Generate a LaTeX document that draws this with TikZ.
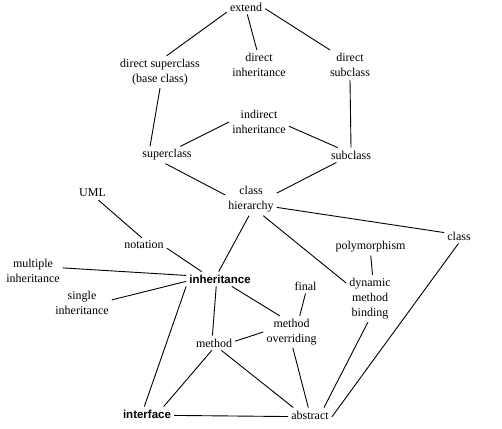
\documentclass[tikz,border=0pt]{standalone}
\usepackage{fontspec}
\setmainfont{Liberation Serif}
\newfontfamily\boldsans{Liberation Sans}
\begin{document}
\begin{tikzpicture}[x=1pt,y=-1pt,
  term/.style={inner sep=3pt,align=center,font=\fontsize{12}{15}\selectfont},
  key/.style={inner sep=3pt,align=center,font=\boldsans\bfseries\fontsize{11.5}{14}\selectfont},
  link/.style={line width=0.9pt}]
\useasboundingbox[fill=white] (0,0) rectangle (502,428);
\node[term] (E) at (246,7) {extend};
\node[term] (DS) at (160,72) {direct superclass\\(base class)};
\node[term] (DI) at (259,65) {direct\\inheritance};
\node[term] (DB) at (350,65) {direct\\subclass};
\node[term] (II) at (259,122) {indirect\\inheritance};
\node[term] (S) at (167,155) {superclass};
\node[term] (B) at (351,155) {subclass};
\node[term] (H) at (251,199.5) {class\\hierarchy};
\node[term] (U) at (92.5,193) {UML};
\node[term] (N) at (144,245) {notation};
\node[term] (M) at (33,270.5) {multiple\\inheritance};
\node[term] (SI) at (82,303) {single\\inheritance};
\node[key] (I) at (220,279) {inheritance};
\node[term] (C) at (459,236) {class};
\node[term] (P) at (370.5,247) {polymorphism};
\node[term] (F) at (305.5,286) {final};
\node[term] (D) at (370,298.5) {dynamic\\method\\binding};
\node[term] (MO) at (291.5,332) {method\\overriding};
\node[term] (ME) at (214,343) {method};
\node[key] (IF) at (147,414) {interface};
\node[term] (A) at (310,415) {abstract};

\draw[link] (E.195) -- (DS.68);
\draw[link] (E.280) -- (DI.98);
\draw[link] (E.355) -- (DB.143);
\draw[link] (DS.270) -- (S.153);
\draw[link] (DB.270) -- (B.90);
\draw[link] (II.180) -- (S.33);
\draw[link] (II.352) -- (B.151);
\draw[link] (S.260) -- (H.170);
\draw[link] (B.207) -- (H.14);
\draw[link] (H.263) -- (I.100);
\draw[link] (H.343) -- (C.167);
\draw[link] (H.307) -- (D.147);
\draw[link] (U.310) -- (N.107);
\draw[link] (N.352) -- (I.158);
\draw[link] (M.5) -- (I.174);
\draw[link] (SI.6) -- (I.184);
\draw[link] (P.272) -- (D.84);
\draw[link] (I.328) -- (MO.126);
\draw[link] (I.243) -- (ME.102);
\draw[link] (I.south west) -- (IF.110);
\draw[link] (F.270) -- (MO.63);
\draw[link] (ME.5) -- (MO.180);
\draw[link] (ME.253) -- (IF.24);
\draw[link] (ME.315) -- (A.156);
\draw[link] (MO.275) -- (A.103);
\draw[link] (D.265) -- (A.28);
\draw[link] (C.266) -- (A.355);
\draw[link] (IF.357) -- (A.184);
\end{tikzpicture}
\end{document}
